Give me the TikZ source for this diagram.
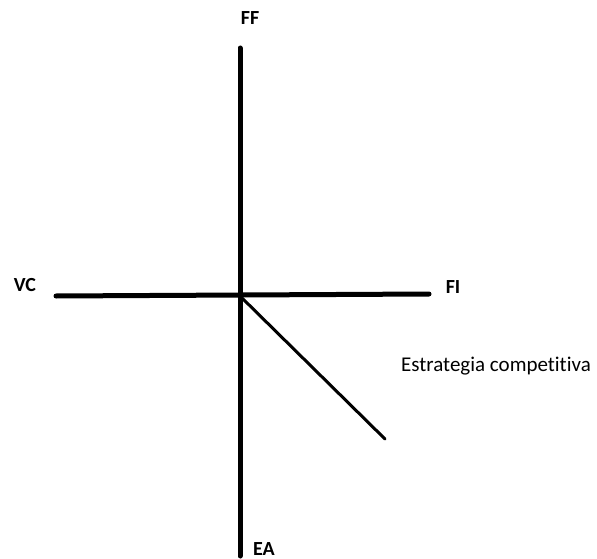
\documentclass[tikz,border=0pt]{standalone}
\usepackage{fontspec}
\setmainfont[Ligatures=NoCommon]{Carlito}
\begin{document}
\begin{tikzpicture}[x=1pt,y=-1pt,
  axis/.style={line width=5pt,line cap=round},
  diag/.style={line width=3pt,line cap=round},
  lab/.style={font=\fontsize{20}{23}\selectfont\bfseries,inner sep=0pt},
  txt/.style={font=\fontsize{21}{25}\selectfont,inner sep=0pt}]
\useasboundingbox (0,0) rectangle (597,559);
\coordinate (top) at (240,48);
\coordinate (bot) at (240,556);
\coordinate (left) at (56,296);
\coordinate (right) at (429,294);
\coordinate (o) at (240,296);
\coordinate (dend) at (385,439);
\draw[axis] (top) -- (bot);
\draw[axis] (left) -- (right);
\draw[diag] (o) -- (dend);
\node[lab] (ff) at (250,18) {FF};
\node[lab] (vc) at (25,285) {VC};
\node[lab] (fi) at (453,287) {FI};
\node[lab] (ea) at (264,549) {EA};
\node[txt] (es) at (496,366) {Estrategia competitiva};
\end{tikzpicture}
\end{document}
